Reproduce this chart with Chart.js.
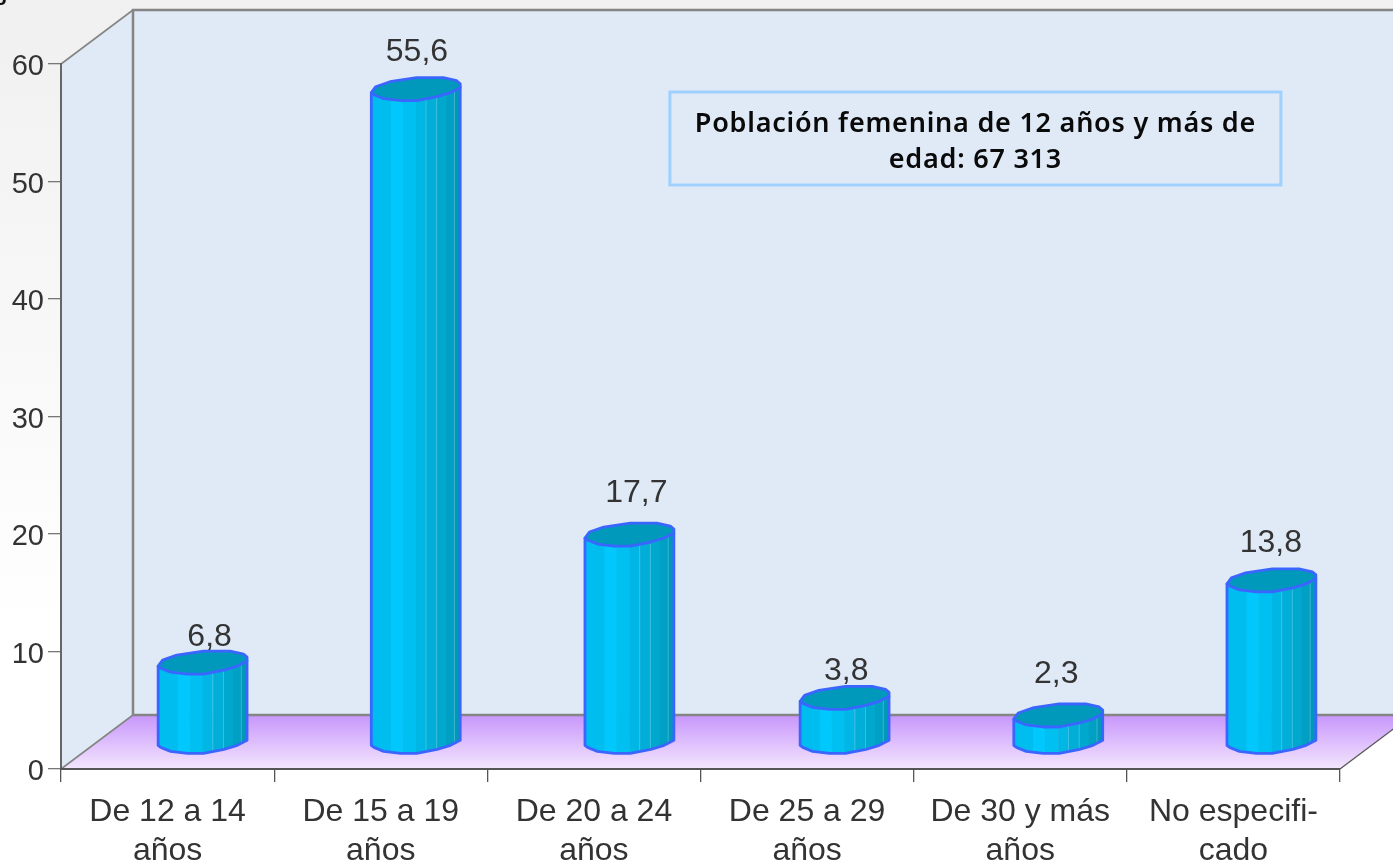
<!DOCTYPE html>
<html><head><meta charset="utf-8">
<script src="https://cdn.jsdelivr.net/npm/chart.js@4"></script>
<style>
html,body{margin:0;padding:0;width:1393px;height:864px;overflow:hidden;background:#fff}
canvas{display:block}
</style></head><body>
<canvas id="c" width="1393" height="864"></canvas>
<script>
const categories = [["De 12 a 14","años"],["De 15 a 19","años"],["De 20 a 24","años"],["De 25 a 29","años"],["De 30 y más","años"],["No especifi-","cado"]];
const seriesValues = [6.8,55.6,17.7,3.8,2.3,13.8];
const valueLabels = ["6,8","55,6","17,7","3,8","2,3","13,8"];
const yTicks = [0,10,20,30,40,50,60];
const noteLines = ["Población femenina de 12 años y más de","edad: 67 313"];

const DEPTH_X = 72, DEPTH_Y = 54, BAR_SHIFT_Y = 15;
const BAR_SHIFT_X = [35,35,35.5,37.5,38,38];
const LABEL_NUDGE = [[7,10],[1.2,-2],[7,-6],[1.6,9],[-2,-6],[-0.5,-2]];
const LOWER = [[0,-8],[0.03,-6],[0.14,-2],[0.33,0],[0.51,0],[0.74,-4],[0.89,-8],[1,-13]];
const UPPER = [[1,-17],[0.96,-20],[0.81,-23],[0.51,-23],[0.21,-19],[0.05,-14]];
const FACETS = [0,0.22,0.35,0.5,0.61,0.73,0.84,0.93,1];
const FACET_COLORS = ['#00bdf0','#00c8fc','#00c0f2','#00b6e4','#00aed8','#00a8ce','#00a0c4','#0098b8'];
const barShift = i => BAR_SHIFT_X[i];

class CylinderBar extends Chart.BarElement {
  draw(ctx){
    const i = this.barIndex || 0;
    const w = this.width, left = this.x - w/2 + barShift(i);
    const top = this.y - BAR_SHIFT_Y, bot = this.base - BAR_SHIFT_Y;
    const body = new Path2D();
    body.moveTo(left, top-8);
    body.lineTo(left+w, top-13);
    for (let k=LOWER.length-1;k>=0;k--) body.lineTo(left+LOWER[k][0]*w, bot+LOWER[k][1]);
    body.closePath();
    ctx.save();
    ctx.save(); ctx.clip(body);
    FACETS.slice(0,-1).forEach((u,k)=>{
      const x0 = left+u*w, x1 = left+FACETS[k+1]*w;
      ctx.fillStyle = FACET_COLORS[k];
      ctx.fillRect(x0, top-30, x1-x0+0.5, bot-top+40);
      if (k===4||k===5||k===7){ctx.fillStyle='rgba(150,225,245,.4)';ctx.fillRect(x0,top-30,1,bot-top+40);}
    });
    ctx.restore();
    ctx.lineJoin='round';
    ctx.strokeStyle='#3a66ff'; ctx.lineWidth=2.8;
    ctx.stroke(body);
    const cap = new Path2D();
    LOWER.forEach((p,k)=>{const X=left+p[0]*w,Y=top+p[1]; k?cap.lineTo(X,Y):cap.moveTo(X,Y);});
    UPPER.forEach(p=>cap.lineTo(left+p[0]*w, top+p[1]));
    cap.closePath();
    ctx.fillStyle='#0099bb'; ctx.fill(cap);
    ctx.stroke(cap);
    ctx.restore();
  }
}
CylinderBar.id='cylinderBar';
CylinderBar.defaults=Chart.BarElement.defaults;
class CylinderController extends Chart.BarController {
  draw(){
    this.getMeta().data.forEach((el,i)=>{el.barIndex=i;});
    super.draw();
  }
}
CylinderController.id='cylinder';
CylinderController.defaults={...Chart.BarController.defaults,dataElementType:'cylinderBar'};
Chart.register(CylinderBar,CylinderController);

const room = {
  id:'room',
  beforeDraw(chart){
    const {ctx,scales:{x,y}} = chart;
    const L=x.left,R=x.right,B=y.getPixelForValue(0),T=y.getPixelForValue(60);
    const W=chart.width;
    ctx.save();
    const bg=ctx.createLinearGradient(0,0,0,640);
    bg.addColorStop(0,'#f0f0f0');bg.addColorStop(1,'#ffffff');
    ctx.fillStyle=bg;ctx.fillRect(0,0,W,640);
    ctx.fillStyle='#e0eaf7';
    ctx.beginPath();ctx.moveTo(L,B);ctx.lineTo(L,T);ctx.lineTo(L+DEPTH_X,T-DEPTH_Y);
    ctx.lineTo(W,T-DEPTH_Y);ctx.lineTo(W,B-DEPTH_Y);ctx.lineTo(L+DEPTH_X,B-DEPTH_Y);ctx.closePath();ctx.fill();
    const fl=ctx.createLinearGradient(0,B-DEPTH_Y,0,B);
    fl.addColorStop(0,'#c896fc');fl.addColorStop(1,'#f3e6fd');
    ctx.fillStyle=fl;
    ctx.beginPath();ctx.moveTo(L,B);ctx.lineTo(L+DEPTH_X,B-DEPTH_Y);ctx.lineTo(R+DEPTH_X,B-DEPTH_Y);ctx.lineTo(R,B);ctx.closePath();ctx.fill();
    ctx.strokeStyle='#858585';ctx.lineWidth=2.5;
    ctx.beginPath();
    ctx.moveTo(L+DEPTH_X,B-DEPTH_Y);ctx.lineTo(L+DEPTH_X,T-DEPTH_Y);ctx.lineTo(W,T-DEPTH_Y);
    ctx.moveTo(L+DEPTH_X,B-DEPTH_Y);ctx.lineTo(W,B-DEPTH_Y);
    ctx.stroke();
    ctx.lineWidth=1.6;ctx.beginPath();
    ctx.moveTo(L,T);ctx.lineTo(L+DEPTH_X,T-DEPTH_Y);
    ctx.moveTo(L,B);ctx.lineTo(L+DEPTH_X,B-DEPTH_Y);
    ctx.stroke();
    ctx.strokeStyle='#555';ctx.lineWidth=1.3;ctx.beginPath();
    ctx.moveTo(R,B);ctx.lineTo(R+DEPTH_X,B-DEPTH_Y);ctx.stroke();
    ctx.restore();
  },
  afterDatasetsDraw(chart){
    const {ctx,scales:{x,y}} = chart;
    const meta = chart.getDatasetMeta(0);
    ctx.save();
    ctx.fillStyle='#333';ctx.font='32px "Liberation Sans"';ctx.textAlign='center';ctx.textBaseline='alphabetic';
    meta.data.forEach((el,i)=>{
      ctx.fillText(valueLabels[i], el.x+barShift(i)+LABEL_NUDGE[i][0], el.y-BAR_SHIFT_Y-38+LABEL_NUDGE[i][1]);
    });
    const bx=x.getPixelForValue(2)+76, by=y.getPixelForValue(60)+28, bw=611, bh=93;
    ctx.strokeStyle='#a0d0ff';ctx.lineWidth=3;ctx.strokeRect(bx,by,bw,bh);
    ctx.fillStyle='#0a0a0a';ctx.font='600 27px "Noto Sans"';ctx.letterSpacing='0.76px';
    noteLines.forEach((t,k)=>ctx.fillText(t,bx+bw/2,by+40+k*36));
    ctx.letterSpacing='0px';
    ctx.restore();
    ctx.save();ctx.fillStyle='#111';ctx.font='bold 22px "Liberation Sans"';ctx.textAlign='left';
    ctx.fillText('g',-6,0);ctx.restore();
  }
};

new Chart(document.getElementById('c'),{
  type:'cylinder',
  data:{labels:categories,datasets:[{data:seriesValues,backgroundColor:'#00c0f0',barPercentage:0.417,categoryPercentage:1}]},
  plugins:[room],
  options:{
    responsive:false,animation:false,
    layout:{padding:{top:64,right:53,bottom:0,left:0}},
    plugins:{legend:{display:false},title:{display:false},tooltip:{enabled:false}},
    scales:{
      y:{min:0,max:60,afterFit(s){s.width=61;},
        afterBuildTicks(s){s.ticks=yTicks.map(v=>({value:v}));},
        grid:{drawOnChartArea:false,drawTicks:true,tickLength:13,color:'#777',lineWidth:1.3},
        border:{display:true,color:'#666',width:2},
        ticks:{color:'#333',font:{family:'"Liberation Sans"',size:29},padding:4,labelOffset:3}},
      x:{afterFit(s){s.height=95;},
        grid:{drawOnChartArea:false,drawTicks:true,tickLength:13,color:'#555',lineWidth:1.3},
        border:{display:true,color:'#555',width:2},
        ticks:{color:'#333',font:{family:'"Liberation Sans"',size:32,lineHeight:1.24},padding:10,maxRotation:0,autoSkip:false}}
    }
  }
});
</script></body></html>
